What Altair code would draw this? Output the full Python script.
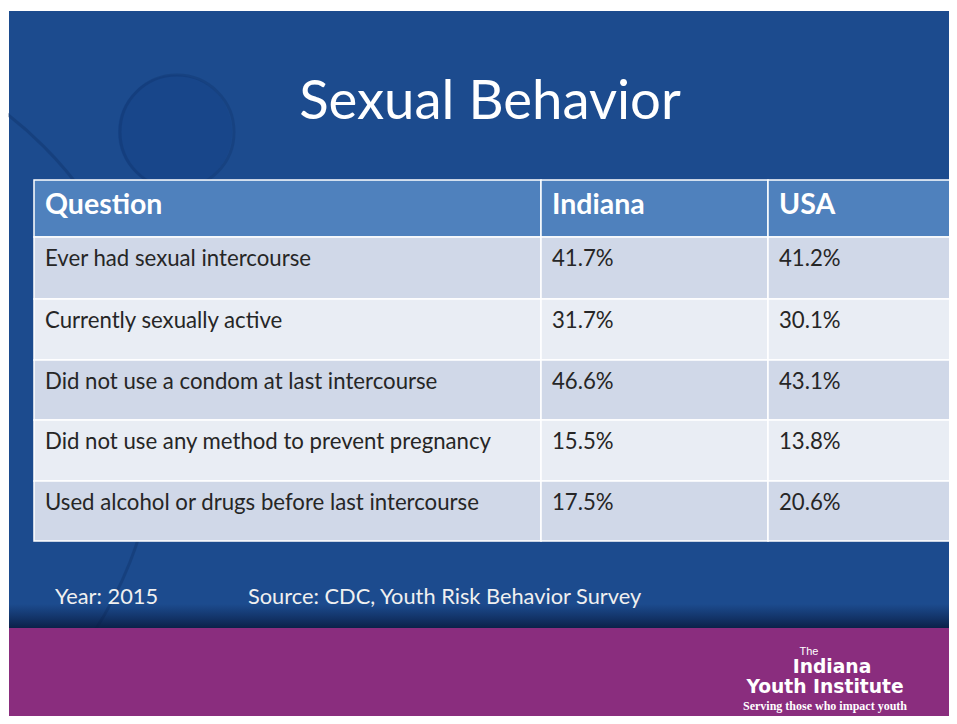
import altair as alt
import pandas as pd

# ---- data ----
title_text = "Sexual Behavior"
headers = ["Question", "Indiana", "USA"]
questions = [
    "Ever had sexual intercourse",
    "Currently sexually active",
    "Did not use a condom at last intercourse",
    "Did not use any method to prevent pregnancy",
    "Used alcohol or drugs before last intercourse",
]
indiana = [41.7, 31.7, 46.6, 15.5, 17.5]
usa = [41.2, 30.1, 43.1, 13.8, 20.6]
year_note = "Year: 2015"
source_note = "Source: CDC, Youth Risk Behavior Survey"
logo_lines = ["The", "Indiana", "Youth Institute", "Serving those who impact youth"]

# ---- layout (page pixel coordinates) ----
W, H = 941, 708
COL_EDGES = [34, 541, 768, 955]
ROW_EDGES = [180, 237, 299, 360, 420, 481, 541]
FONT = "Lato"

xs = alt.Scale(domain=[8, 8 + W], nice=False, zero=False)
ys = alt.Scale(domain=[8 + H, 8], nice=False, zero=False)
X = lambda f: alt.X(f, type="quantitative", scale=xs, axis=None)
Y = lambda f: alt.Y(f, type="quantitative", scale=ys, axis=None)

cells = []
for r in range(6):
    for c in range(3):
        if r == 0:
            text, kind = headers[c], "header"
        else:
            vals = [questions[r - 1], f"{indiana[r - 1]:.1f}%", f"{usa[r - 1]:.1f}%"]
            text, kind = vals[c], ("odd" if r % 2 == 1 else "even")
        cells.append(dict(
            x=COL_EDGES[c], x2=COL_EDGES[c + 1], y=ROW_EDGES[r], y2=ROW_EDGES[r + 1],
            tx=COL_EDGES[c] + 11, ty=ROW_EDGES[r] + (25 if r == 0 else 22),
            text=text, kind=kind))
cells = pd.DataFrame(cells)


def band(x, x2, y, y2, color):
    return alt.Chart(pd.DataFrame([dict(x=x, x2=x2, y=y, y2=y2)])).mark_rect(
        color=color).encode(x=X("x"), x2="x2", y=Y("y"), y2="y2")


white_bg = band(8, 8 + W, 8, 8 + H, "#ffffff")
blue_bg = band(9, 8 + W, 11, 628, "#1c4b8e")
purple_bg = band(9, 8 + W, 628, 8 + H, "#8a2d7e")

shade = alt.Chart(pd.DataFrame([dict(x=9, x2=8 + W, y=604, y2=628)])).mark_rect(
    color=alt.Gradient(gradient="linear", x1=0, x2=0, y1=0, y2=1,
                       stops=[alt.GradientStop(color="rgba(10,30,70,0)", offset=0),
                              alt.GradientStop(color="rgba(8,25,60,0.85)", offset=1)])
).encode(x=X("x"), x2="x2", y=Y("y"), y2="y2")

big_arc = alt.Chart(pd.DataFrame([dict(x=-230, y=420)])).mark_point(
    shape="circle", filled=False, size=4 * 387 ** 2, color="#0a2a5c", opacity=0.3, strokeWidth=3
).encode(x=X("x"), y=Y("y"))

circle_fill = alt.Chart(pd.DataFrame([dict(x=175, y=132)])).mark_point(
    shape="circle", filled=True, size=4 * 57 ** 2, color="#18468a", opacity=1
).encode(x=X("x"), y=Y("y"))
circle_edge = alt.Chart(pd.DataFrame([dict(x=177, y=132)])).mark_point(
    shape="circle", filled=False, size=4 * 57 ** 2, color="#0c2d62", opacity=0.28, strokeWidth=3
).encode(x=X("x"), y=Y("y"))

cell_rects = alt.Chart(cells).mark_rect(stroke="white", strokeWidth=1.5).encode(
    x=X("x"), x2="x2", y=Y("y"), y2="y2",
    color=alt.Color("kind:N", scale=alt.Scale(domain=["header", "odd", "even"],
                                                range=["#4f81bd", "#d0d8e8", "#e9edf4"]),
                    legend=None))

header_text = alt.Chart(cells[cells.kind == "header"]).mark_text(
    align="left", baseline="middle", font=FONT, fontSize=28.5, fontWeight="bold", color="white"
).encode(x=X("tx"), y=Y("ty"), text="text:N")

body_text = alt.Chart(cells[cells.kind != "header"]).mark_text(
    align="left", baseline="middle", font=FONT, fontSize=22.2, color="#262626"
).encode(x=X("tx"), y=Y("ty"), text="text:N")

titles = pd.DataFrame([
    dict(x=490, y=103, t=title_text),
    dict(x=55, y=597, t=year_note),
    dict(x=248, y=597, t=source_note),
])
title_big = alt.Chart(titles.iloc[[0]]).mark_text(
    baseline="middle", align="center", font=FONT, fontSize=54.5, color="white"
).encode(x=X("x"), y=Y("y"), text="t:N")
notes = alt.Chart(titles.iloc[1:]).mark_text(
    baseline="middle", align="left", font=FONT, fontSize=21.8, color="#f0f0f0"
).encode(x=X("x"), y=Y("y"), text="t:N")

logo = pd.DataFrame([
    dict(x=809, y=652, t=logo_lines[0], s=11, w="normal", f="Liberation Sans"),
    dict(x=832, y=667, t=logo_lines[1], s=18.7, w="bold", f="DejaVu Sans"),
    dict(x=825, y=687, t=logo_lines[2], s=18.7, w="bold", f="DejaVu Sans"),
    dict(x=825, y=706, t=logo_lines[3], s=12, w="bold", f="Liberation Serif"),
])
logo_layers = []
for _, row in logo.iterrows():
    logo_layers.append(alt.Chart(logo[logo.t == row.t]).mark_text(
        baseline="middle", align="center", font=row.f, fontSize=row.s,
        fontWeight=row.w, color="white"
    ).encode(x=X("x"), y=Y("y"), text="t:N"))

chart = alt.layer(
    white_bg, blue_bg, big_arc, circle_fill, circle_edge, shade, purple_bg,
    cell_rects, header_text, body_text, title_big, notes, *logo_layers
).properties(width=W, height=H, padding=0, autosize="none", background="white"
).configure_view(stroke=None)

chart.save("out.html", embed_options={"renderer": "svg", "actions": False})
